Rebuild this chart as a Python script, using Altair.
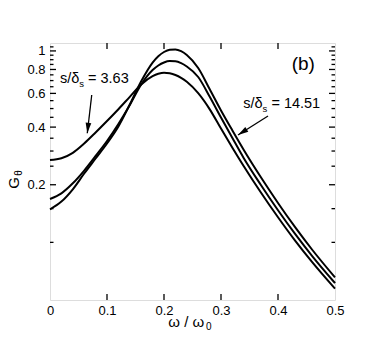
import altair as alt
import pandas as pd

FONT = "Liberation Sans"

# ---- data ----
omega = [0, 0.02, 0.04, 0.06, 0.08, 0.10, 0.12, 0.14, 0.16, 0.18, 0.19, 0.20, 0.21,
         0.22, 0.23, 0.24, 0.26, 0.28, 0.30, 0.32, 0.34, 0.37, 0.40, 0.43, 0.46, 0.50]
g_363 = [0.2694, 0.2752, 0.2937, 0.3285, 0.3750, 0.4305, 0.4961, 0.5759, 0.6678, 0.7380,
         0.7596, 0.7697, 0.7641, 0.7486, 0.7238, 0.6899, 0.6015, 0.4967, 0.3929, 0.3123,
         0.2499, 0.1821, 0.1352, 0.1021, 0.0788, 0.0573]
g_mid = [0.1685, 0.1804, 0.2035, 0.2373, 0.2827, 0.3385, 0.4153, 0.5218, 0.6678, 0.7942,
         0.8392, 0.8700, 0.8848, 0.8827, 0.8638, 0.8291, 0.7309, 0.5780, 0.4490, 0.3509,
         0.2752, 0.1994, 0.1472, 0.1107, 0.0848, 0.0613]
g_1451 = [0.1489, 0.1633, 0.1893, 0.2289, 0.2742, 0.3285, 0.4030, 0.5250, 0.6941, 0.8689,
          0.9374, 0.9871, 1.0148, 1.0185, 0.9967, 0.9522, 0.8143, 0.6326, 0.4884, 0.3840,
          0.3038, 0.2187, 0.1606, 0.1200, 0.0915, 0.0656]
series = ["3.63", "mid", "14.51"]

x_ticks = [0, 0.1, 0.2, 0.3, 0.4, 0.5]
x_inner_ticks = [0.1, 0.2, 0.3, 0.4]
y_major = [0.2, 0.4, 0.6, 0.8, 1.0]
y_minor = [0.1, 0.15, 0.25, 0.3, 0.35, 0.45, 0.5, 0.55, 0.65, 0.7, 0.75,
           0.85, 0.9, 0.95, 1.05]

# annotation arrows (tail -> head), in data coordinates
arrow1 = {"x": 0.0732, "y": 0.5886, "x2": 0.0654, "y2": 0.3713}
arrow2 = {"x": 0.3825, "y": 0.4572, "x2": 0.3298, "y2": 0.3638}

W, H = 285, 257

rows = []
for name, vals in zip(series, [g_363, g_mid, g_1451]):
    for o, g in zip(omega, vals):
        rows.append({"omega": o, "G": g, "series": name})
df = pd.DataFrame(rows)

xs = alt.Scale(domain=[0, 0.5], nice=False, zero=False)
ys = alt.Scale(type="log", domain=[0.05, 1.1], nice=False)

lines = alt.Chart(df).mark_line(color="black", strokeWidth=2, interpolate="monotone").encode(
    x=alt.X("omega:Q", scale=xs, title=None,
            axis=alt.Axis(values=x_ticks, format=".1~f", ticks=False, domain=False, grid=False,
                          labelFontSize=13, labelFont=FONT, labelColor="black",
                          labelFlush=False, labelOverlap=False,
                          labelPadding=4, title=None)),
    y=alt.Y("G:Q", scale=ys, title=None,
            axis=alt.Axis(values=y_major, format=".1~f", ticks=False, domain=False, grid=False,
                          labelFontSize=13, labelFont=FONT, labelColor="black",
                          labelFlush=False, labelOverlap=False,
                          labelPadding=5, title=None)),
    detail="series:N",
)


def yticks(vals, length):
    d = pd.DataFrame({"v": vals})
    left = alt.Chart(d).mark_rule(color="black", strokeWidth=1.3).encode(
        y=alt.Y("v:Q", scale=ys, title=None), x=alt.value(0), x2=alt.value(length))
    right = alt.Chart(d).mark_rule(color="black", strokeWidth=1.3).encode(
        y=alt.Y("v:Q", scale=ys, title=None), x=alt.value(W - length), x2=alt.value(W))
    return [left, right]


def xticks(vals, length):
    d = pd.DataFrame({"v": vals})
    bot = alt.Chart(d).mark_rule(color="black", strokeWidth=1.3).encode(
        x=alt.X("v:Q", scale=xs, title=None), y=alt.value(H), y2=alt.value(H - length))
    top = alt.Chart(d).mark_rule(color="black", strokeWidth=1.3).encode(
        x=alt.X("v:Q", scale=xs, title=None), y=alt.value(0), y2=alt.value(length))
    return [bot, top]


def label(txt, x, y, size, angle=0, align="left"):
    return alt.Chart(alt.Data(values=[{}])).mark_text(
        text=txt, align=align, baseline="alphabetic", fontSize=size, font=FONT,
        color="black", angle=angle).encode(x=alt.value(x), y=alt.value(y))


def arrow(a, angle):
    d = pd.DataFrame([a])
    shaft = alt.Chart(d).mark_rule(color="black", strokeWidth=1.3).encode(
        x=alt.X("x:Q", scale=xs, title=None), y=alt.Y("y:Q", scale=ys, title=None),
        x2="x2:Q", y2="y2:Q")
    head = alt.Chart(d).mark_point(
        shape="M0,0L-0.6,2.2L0.6,2.2Z", filled=True, color="black", opacity=1,
        size=90, angle=angle).encode(
        x=alt.X("x2:Q", scale=xs, title=None), y=alt.Y("y2:Q", scale=ys, title=None))
    return [shaft, head]


fs = 14.5
sub = 9.5
layers = [lines]
layers += yticks(y_major, 6) + yticks(y_minor, 3.5) + xticks(x_inner_ticks, 6)
layers += arrow(arrow1, 186.5) + arrow(arrow2, 237.7)
layers += [
    label("s/δ", 10, 40, fs), label("s", 29.3, 43.5, sub), label("= 3.63", 38, 40, fs),
    label("s/δ", 193.3, 65.3, fs), label("s", 212.6, 68.8, sub), label("= 14.51", 221.4, 65.3, fs),
    label("(b)", 241.7, 26.5, 19),
    label("G", -31, 140, 15, angle=270, align="center"),
    label("θ", -28, 130, 10, angle=270, align="center"),
    label("ω / ω", 118.3, 284, 15),
    label("0", 156, 287.3, 10),
]

chart = alt.layer(*layers).properties(
    width=W, height=H,
    autosize=alt.AutoSizeParams(type="none"),
    padding={"left": 42, "top": 35, "right": 38, "bottom": 31},
).configure_view(stroke="black", strokeWidth=2).configure(background="white")

chart.save("out.html", embed_options={"renderer": "svg", "actions": False})
